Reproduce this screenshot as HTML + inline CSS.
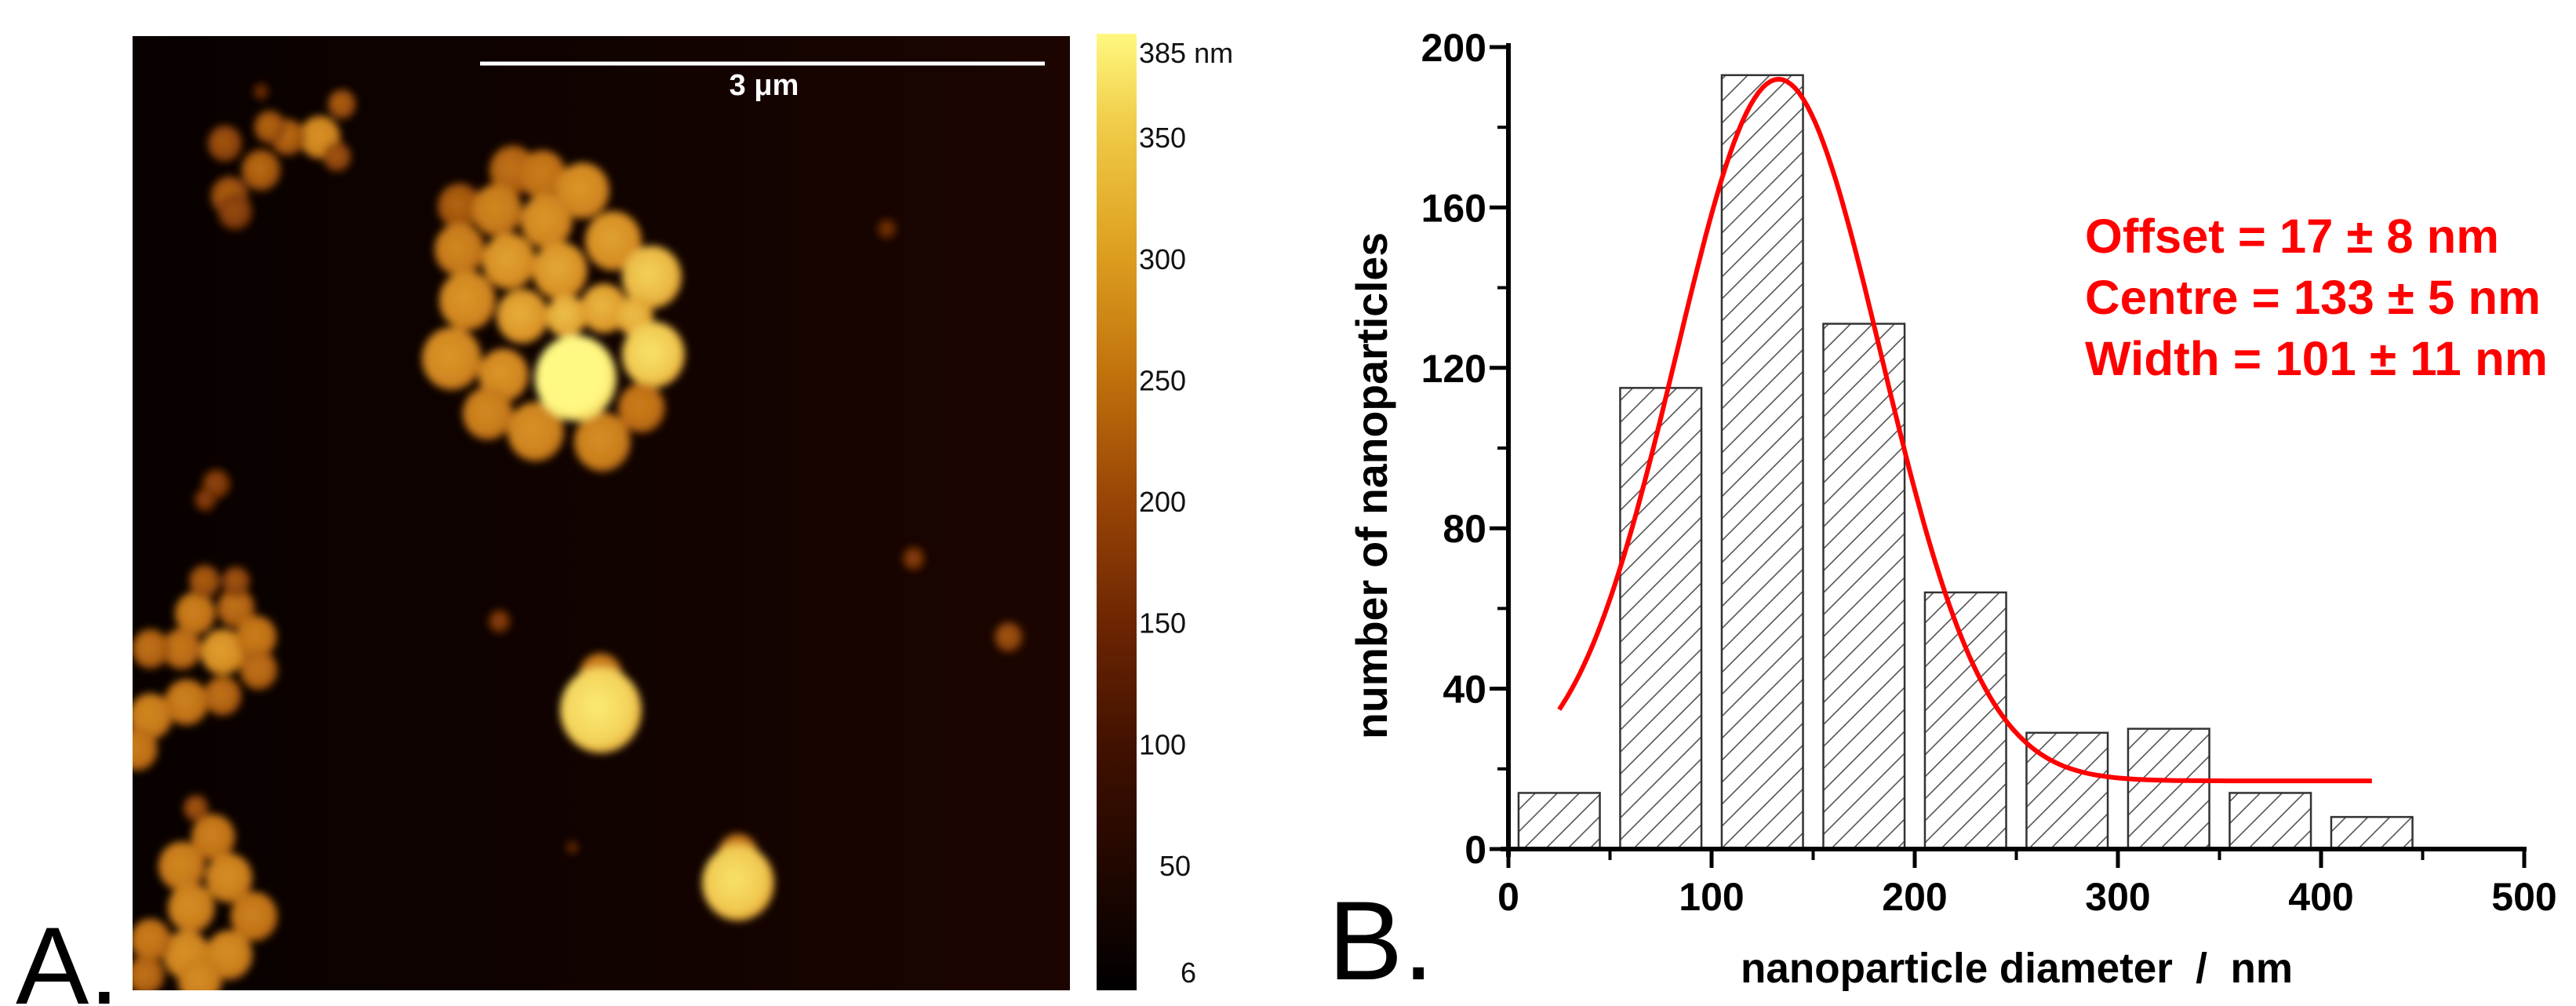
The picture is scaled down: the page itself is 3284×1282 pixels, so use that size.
<!DOCTYPE html>
<html><head><meta charset="utf-8">
<style>
html,body{margin:0;padding:0;background:#fff;}
svg{display:block;}
text{font-family:"Liberation Sans",Arial,sans-serif;}
</style></head>
<body>
<svg id="fig" width="3284" height="1282" viewBox="0 0 3284 1282" xmlns="http://www.w3.org/2000/svg">
<defs>
  <linearGradient id="bg" x1="0" y1="0" x2="1" y2="0">
    <stop offset="0" stop-color="#080100"/>
    <stop offset="0.6" stop-color="#120300"/>
    <stop offset="1" stop-color="#1c0500"/>
  </linearGradient>
  <linearGradient id="cbar" x1="0" y1="1" x2="0" y2="0">
    <stop offset="0" stop-color="#000000"/>
    <stop offset="0.115" stop-color="#1e0600"/>
    <stop offset="0.245" stop-color="#3e1000"/>
    <stop offset="0.375" stop-color="#6a2402"/>
    <stop offset="0.51" stop-color="#984406"/>
    <stop offset="0.64" stop-color="#c0700c"/>
    <stop offset="0.775" stop-color="#dea020"/>
    <stop offset="0.905" stop-color="#f0cc48"/>
    <stop offset="1" stop-color="#fff880"/>
  </linearGradient>
  <filter id="soft" x="-30%" y="-30%" width="160%" height="160%"><feGaussianBlur stdDeviation="5"/></filter>
  <clipPath id="imgclip"><rect x="169" y="46" width="1195" height="1216"/></clipPath>
  <pattern id="hatch" patternUnits="userSpaceOnUse" width="28" height="28">
    <path d="M-7,7 L7,-7 M0,28 L28,0 M21,35 L35,21" stroke="#555" stroke-width="1.6"/>
  </pattern>
</defs>

<g>
  <rect x="169" y="46" width="1195" height="1216" fill="url(#bg)"/>
  <g id="particles" clip-path="url(#imgclip)" filter="url(#soft)"></g>
</g>
<line x1="612" y1="81" x2="1332" y2="81" stroke="#fff" stroke-width="5"/>
<text x="974" y="121" fill="#fff" font-size="38" font-weight="bold" text-anchor="middle">3 μm</text>
<rect x="1398" y="43" width="51" height="1219" fill="url(#cbar)"/>
<g id="cbarlabels"></g>
<text x="20" y="1279" font-size="140" fill="#000">A.</text>
<text x="1693" y="1248" font-size="143" fill="#000">B.</text>

<g id="chart"></g>
<text transform="translate(1768,619) rotate(-90)" font-size="56" font-weight="bold" text-anchor="middle" textLength="646" lengthAdjust="spacingAndGlyphs">number of nanoparticles</text>
<text x="2571" y="1252" font-size="54" font-weight="bold" text-anchor="middle" textLength="704" lengthAdjust="spacingAndGlyphs" xml:space="preserve">nanoparticle diameter  /  nm</text>
<text x="2658" y="322" font-size="61" font-weight="bold" fill="#ff0000" textLength="528" lengthAdjust="spacingAndGlyphs">Offset = 17 ± 8 nm</text>
<text x="2658" y="400" font-size="61" font-weight="bold" fill="#ff0000" textLength="581" lengthAdjust="spacingAndGlyphs">Centre = 133 ± 5 nm</text>
<text x="2658" y="478" font-size="61" font-weight="bold" fill="#ff0000" textLength="590" lengthAdjust="spacingAndGlyphs">Width = 101 ± 11 nm</text>
</svg>
<script>
const binCenters = [25, 75, 125, 175, 225, 275, 325, 375, 425];
const binCounts = [14, 115, 193, 131, 64, 29, 30, 14, 8];
const binWidth = 40;
const xTicks = [0, 100, 200, 300, 400, 500];
const xMinorTicks = [50, 150, 250, 350, 450];
const yTicks = [0, 40, 80, 120, 160, 200];
const yMinorTicks = [20, 60, 100, 140, 180];
const fitOffset = 17, fitCentre = 133, fitWidth = 101, fitPeak = 192;
const fitRange = [25, 425];
const cbarValues = [6, 50, 100, 150, 200, 250, 300, 350, 385];
const cbarLabels = ["6", "50", "100", "150", "200", "250", "300", "350", "385 nm"];

const NS = "http://www.w3.org/2000/svg";
function mk(tag, attrs, parent) {
  const e = document.createElementNS(NS, tag);
  for (const k in attrs) e.setAttribute(k, attrs[k]);
  parent.appendChild(e);
  return e;
}
const X0 = 1923, X1 = 3218, Y0 = 1082, Y1 = 60;
const xs = v => X0 + (v / 500) * (X1 - X0);
const ys = v => Y0 - (v / 200) * (Y0 - Y1);
const chart = document.getElementById("chart");

binCenters.forEach((c, i) => {
  const r = mk("rect", {x: xs(c - binWidth/2), y: ys(binCounts[i]), width: xs(c + binWidth/2) - xs(c - binWidth/2), height: ys(0) - ys(binCounts[i]), fill: "url(#hatch)", stroke: "#333", "stroke-width": 2.5}, chart);
  
  
});

const pts = [];
for (let x = fitRange[0]; x <= fitRange[1]; x += 2) {
  const y = fitOffset + (fitPeak - fitOffset) * Math.exp(-2 * Math.pow(x - fitCentre, 2) / (fitWidth * fitWidth));
  pts.push(xs(x).toFixed(1) + "," + ys(y).toFixed(1));
}
const fit = mk("polyline", {points: pts.join(" "), fill: "none", stroke: "#ff0000", "stroke-width": 6}, chart);



const yax = mk("line", {x1: X0, y1: Y1 - 5, x2: X0, y2: Y0 + 10, stroke: "#000", "stroke-width": 6}, chart);


const xax = mk("line", {x1: X0 - 10, y1: Y0, x2: X1 + 3, y2: Y0, stroke: "#000", "stroke-width": 6}, chart);



yTicks.forEach(v => {
  mk("line", {x1: X0 - 24, y1: ys(v), x2: X0, y2: ys(v), stroke: "#000", "stroke-width": 5}, chart);
  const t = mk("text", {x: 1895, y: ys(v) + 18, "font-size": 50, "font-weight": "bold", "text-anchor": "end"}, chart);
  t.textContent = v;
  
  
});
yMinorTicks.forEach(v => mk("line", {x1: X0 - 14, y1: ys(v), x2: X0, y2: ys(v), stroke: "#000", "stroke-width": 4}, chart));
xTicks.forEach(v => {
  mk("line", {x1: xs(v), y1: Y0, x2: xs(v), y2: Y0 + 24, stroke: "#000", "stroke-width": 5}, chart);
  const t = mk("text", {x: xs(v), y: 1160, "font-size": 50, "font-weight": "bold", "text-anchor": "middle"}, chart);
  t.textContent = v;
  
  
});
xMinorTicks.forEach(v => mk("line", {x1: xs(v), y1: Y0, x2: xs(v), y2: Y0 + 14, stroke: "#000", "stroke-width": 4}, chart));

const cb = document.getElementById("cbarlabels");
const cbY = v => 1239 - (v - 6) / (385 - 6) * (1239 - 67);
cbarValues.forEach((v, i) => {
  const t = mk("text", {x: i === 0 ? 1505 : (i === 1 ? 1478 : 1452), y: cbY(v) + 13, "font-size": 36, fill: "#111"}, cb);
  t.textContent = cbarLabels[i];
  
  
});

const particleList = [
  [654,217,30,0.45],[692,223,30,0.5],[743,243,34,0.62],[586,263,28,0.4],[634,268,32,0.55],[697,282,33,0.62],
  [782,307,36,0.66],[586,318,32,0.55],[649,333,34,0.66],[714,345,35,0.68],[831,353,38,0.8],[596,383,36,0.62],
  [666,403,33,0.7],[722,403,26,0.75],[770,393,30,0.72],[809,403,24,0.75],[576,457,38,0.62],[642,478,32,0.62],
  [833,452,40,0.85],[622,527,32,0.56],[683,550,36,0.6],[768,563,36,0.58],[818,520,30,0.5],[734,482,52,1.0],
  [408,175,26,0.6],[333,217,25,0.42],[293,250,24,0.38],[287,183,22,0.35],[367,175,22,0.42],[436,133,18,0.38],
  [430,200,18,0.35],[344,162,20,0.4],[300,270,22,0.32],
  [284,831,28,0.65],[249,782,26,0.52],[301,775,24,0.45],[327,812,26,0.5],[330,854,24,0.45],[232,827,25,0.48],
  [192,827,24,0.45],[238,895,28,0.52],[284,887,24,0.45],[192,913,28,0.55],[175,955,26,0.5],[261,741,20,0.38],[301,741,18,0.35],
  [272,1067,28,0.52],[232,1104,30,0.55],[292,1119,30,0.58],[244,1157,30,0.58],[324,1168,30,0.52],[238,1217,30,0.6],
  [292,1217,30,0.58],[192,1198,26,0.5],[255,1250,28,0.58],[186,1243,24,0.45],[250,1030,16,0.35],
  [766,862,28,0.55],[766,905,52,0.88],[941,1090,26,0.55],[941,1125,46,0.85],
  [1131,292,12,0.22],[1165,712,14,0.28],[1286,812,18,0.35],[637,792,14,0.28],[276,617,18,0.3],[262,637,14,0.28],[333,117,10,0.2],[730,1080,8,0.18]
];
function pcol(b) {
  const stops = [[0,[30,8,0]],[0.3,[120,50,5]],[0.5,[190,110,20]],[0.7,[220,150,40]],[0.85,[240,200,80]],[1,[255,248,130]]];
  for (let i = 1; i < stops.length; i++) {
    if (b <= stops[i][0]) {
      const a = stops[i-1], c = stops[i], t = (b - a[0]) / (c[0] - a[0]);
      return "rgb(" + a[1].map((v, k) => Math.round(v + (c[1][k] - v) * t)).join(",") + ")";
    }
  }
  return "rgb(255,248,130)";
}
const pg = document.getElementById("particles");
const defs = document.querySelector("defs");
particleList.forEach((p, i) => {
  const g = mk("radialGradient", {id: "pg" + i, cx: "0.45", cy: "0.45", r: "0.6"}, defs);
  mk("stop", {offset: "0", "stop-color": pcol(Math.min(1, p[3] + 0.08))}, g);
  mk("stop", {offset: "0.7", "stop-color": pcol(p[3])}, g);
  mk("stop", {offset: "1", "stop-color": pcol(Math.max(0, p[3] - 0.15))}, g);
  const c = mk("ellipse", {cx: p[0], cy: p[1], rx: p[2], ry: p[2] * 1.05, fill: "url(#pg" + i + ")"}, pg);
  
  
});
</script>
</body></html>
